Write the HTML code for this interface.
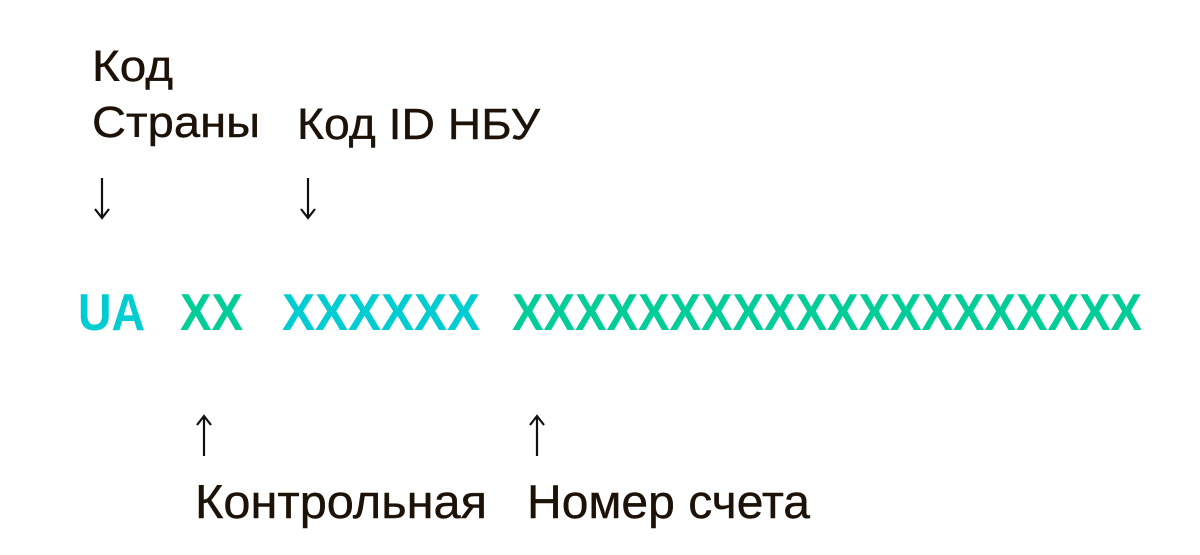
<!DOCTYPE html>
<html><head><meta charset="utf-8"><style>
html,body{margin:0;padding:0;background:#fff;width:1200px;height:555px;overflow:hidden}
svg{display:block}
text{font-family:"Liberation Sans",sans-serif}
.l{font-size:44px;fill:#1c1208;stroke:#1c1208;stroke-width:0.4}
.b{font-size:47px;fill:#1c1208;stroke:#1c1208;stroke-width:0.4}
.c{font-size:52px;font-weight:bold}
.ar{stroke:#111;stroke-width:2.2;fill:none}
</style></head><body>
<svg width="1200" height="555" viewBox="0 0 1200 555">
<text class="l" x="92" y="81" textLength="81" lengthAdjust="spacingAndGlyphs">Код</text>
<text class="l" x="92" y="137" textLength="168" lengthAdjust="spacingAndGlyphs">Страны</text>
<text class="l" x="297" y="139" textLength="243" lengthAdjust="spacingAndGlyphs">Код ID НБУ</text>
<path class="ar" d="M102 178 V218 M95 209 L102 218 L109 209"/>
<path class="ar" d="M308 178 V218 M301 209 L308 218 L315 209"/>
<text class="c" x="78" y="330" fill="#00cdd2" textLength="67" lengthAdjust="spacingAndGlyphs">UA</text>
<text class="c" x="180" y="330" fill="#00cd98" textLength="63" lengthAdjust="spacingAndGlyphs">XX</text>
<text class="c" x="282" y="330" fill="#00cdd2" textLength="198" lengthAdjust="spacingAndGlyphs">XXXXXX</text>
<text class="c" x="512" y="330" fill="#00cd98" textLength="630" lengthAdjust="spacingAndGlyphs">XXXXXXXXXXXXXXXXXXXX</text>
<path class="ar" d="M204 416 V456 M197 425 L204 416 L211 425"/>
<path class="ar" d="M537 416 V456 M530 425 L537 416 L544 425"/>
<text class="b" x="195" y="518" textLength="292" lengthAdjust="spacingAndGlyphs">Контрольная</text>
<text class="b" x="527" y="518" textLength="283" lengthAdjust="spacingAndGlyphs">Номер счета</text>
</svg>
</body></html>
